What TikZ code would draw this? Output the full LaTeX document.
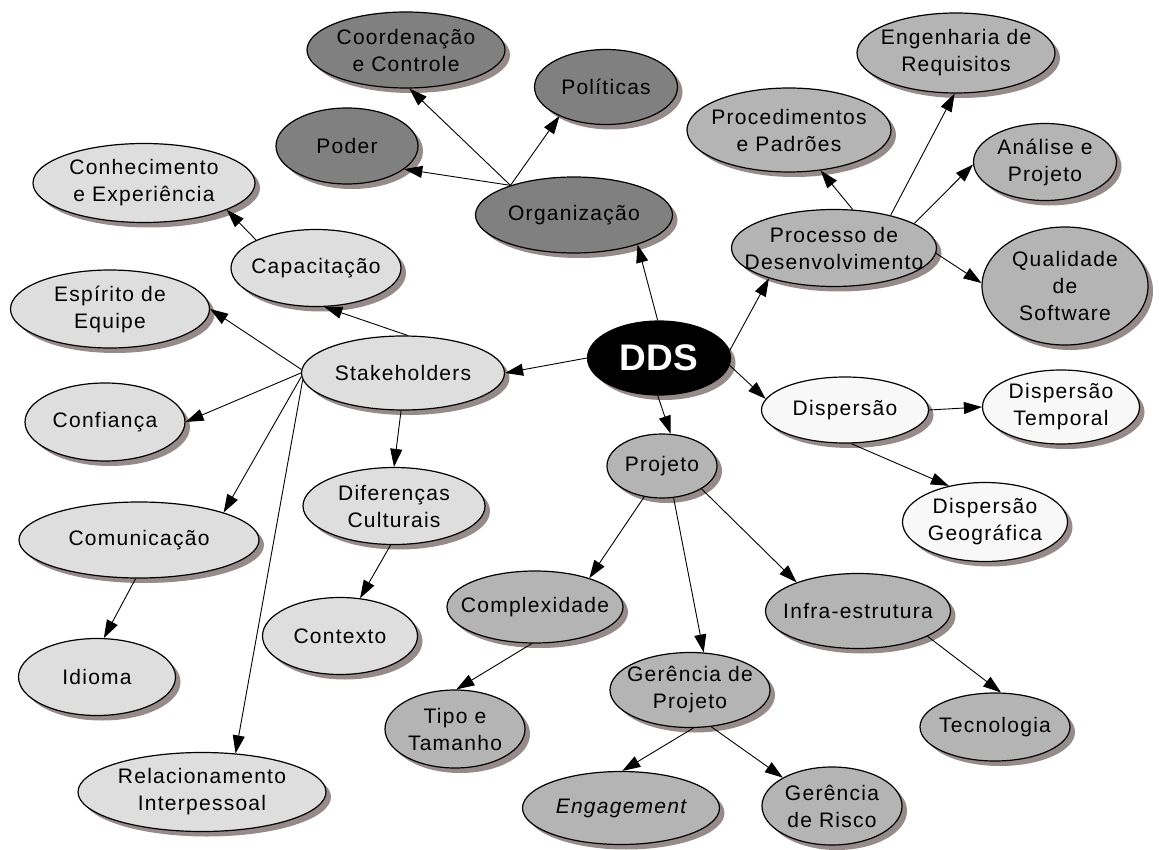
\documentclass[tikz,border=0pt]{standalone}
\usepackage{fontspec}
\setmainfont{Liberation Sans}[LetterSpace=6]
\usepackage{tikz}
\usetikzlibrary{shapes.geometric,arrows.meta,shadows}
\definecolor{orggray}{RGB}{128,128,128}
\definecolor{midgray}{RGB}{180,180,180}
\definecolor{litegray}{RGB}{222,222,222}
\definecolor{dispwhite}{RGB}{248,248,248}
\definecolor{shadowc}{RGB}{150,138,138}
\newcommand{\bubfont}{\fontsize{21}{27}\selectfont}
\tikzset{
  bubble/.style={ellipse, draw, line width=1.2pt, inner sep=0pt,
    drop shadow={shadow xshift=5pt, shadow yshift=-5pt, fill=shadowc, opacity=1}},
  orgbub/.style={bubble, fill=orggray},
  midbub/.style={bubble, fill=midgray},
  litebub/.style={bubble, fill=litegray},
  dispbub/.style={bubble, fill=dispwhite},
  sz/.style 2 args={minimum width=#1pt, minimum height=#2pt},
  every label/.style={font=\bubfont, align=center, inner sep=0pt},
  link/.style={-{Triangle[length=18pt,width=12pt]}, line width=0.9pt},
}

\begin{document}
\begin{tikzpicture}[x=1pt, y=-1pt]
    \fill[white] (0,0) rectangle (1159,850);
    \useasboundingbox (0,0) rectangle (1159,850);

    % centro
    \node[bubble, fill=black, sz={143}{74},
      label={[text=white, font=\fontsize{37}{40}\selectfont\bfseries\addfontfeature{LetterSpace=0}]center:DDS}] (dds) at (659,358) {};

    % organizacao
    \node[orgbub, sz={197}{76}, label={center:Organização}] (org) at (574,215) {};
    \node[orgbub, sz={142}{76}, label={center:Poder}] (poder) at (347,146) {};
    \node[orgbub, sz={198}{76}, label={center:Coordenação\\e Controle}] (coord) at (406,50) {};
    \node[orgbub, sz={143}{75}, label={center:Políticas}] (polit) at (606,87) {};

    % stakeholders
    \node[litebub, sz={203}{74}, label={center:Stakeholders}] (stake) at (403,373) {};
    \node[litebub, sz={170}{77}, label={center:Capacitação}] (capac) at (316,268) {};
    \node[litebub, sz={222}{79}, label={center:Conhecimento\\e Experiência}] (conhec) at (144,183) {};
    \node[litebub, sz={199}{78}, label={center:Espírito de\\Equipe}] (espir) at (110,309) {};
    \node[litebub, sz={160}{78}, label={center:Confiança}] (confi) at (105,422) {};
    \node[litebub, sz={240}{76}, label={center:Comunicação}] (comun) at (139,540) {};
    \node[litebub, sz={157}{77}, label={center:Idioma}] (idiom) at (97,677) {};
    \node[litebub, sz={248}{79}, label={center:Relacionamento\\Interpessoal}] (relac) at (202,792) {};
    \node[litebub, sz={182}{77}, label={center:Diferenças\\Culturais}] (difer) at (394,506) {};
    \node[litebub, sz={155}{77}, label={center:Contexto}] (contx) at (340,636) {};

    % processo
    \node[midbub, sz={205}{77}, label={center:Processo de\\Desenvolvimento}] (proc) at (834,248) {};
    \node[midbub, sz={204}{84}, label={center:Procedimentos\\e Padrões}] (proced) at (789,130) {};
    \node[midbub, sz={198}{80}, label={center:Engenharia de\\Requisitos}] (engen) at (956,53) {};
    \node[midbub, sz={143}{77}, label={center:Análise e\\Projeto}] (analis) at (1045,162) {};
    \node[midbub, sz={166}{118}, label={center:Qualidade\\de\\Software}] (qualid) at (1065,286) {};

    % dispersao
    \node[dispbub, sz={167}{66}, label={center:Dispersão}] (disp) at (845,410) {};
    \node[dispbub, sz={157}{74}, label={center:Dispersão\\Temporal}] (dtemp) at (1061,407) {};
    \node[dispbub, sz={165}{79}, label={center:Dispersão\\Geográfica}] (dgeo) at (985,522) {};

    % projeto
    \node[midbub, sz={110}{64}, label={center:Projeto}] (proj) at (662,466) {};
    \node[midbub, sz={176}{72}, label={center:Complexidade}] (cmplx) at (535,607) {};
    \node[midbub, sz={140}{78}, label={center:Tipo e\\Tamanho}] (tipo) at (455,729) {};
    \node[midbub, sz={160}{75}, label={center:Gerência de\\Projeto}] (gerproj) at (690,690) {};
    \node[midbub, sz={185}{75}, label={center:Infra-estrutura}] (infra) at (858,611) {};
    \node[midbub, sz={150}{68}, label={center:Tecnologia}] (tecno) at (995,727) {};
    \node[midbub, sz={197}{73}, label={[font=\bubfont\itshape]center:Engagement}] (engag) at (621,808) {};
    \node[midbub, sz={140}{78}, label={center:Gerência\\de Risco}] (risco) at (832,806) {};

    % ligacoes
    \draw[link] (dds.92) -- (org.335);
    \draw[link] (dds.west) -- (stake.east);
    \draw[link] (dds.6) -- (proc.205);
    \draw[link] (dds.354) -- (disp.172);
    \draw[link] (dds.268) -- (proj.75);

    \draw[link] (org.155) -- (poder.338);
    \draw[link] (org.155) -- (coord.275);
    \draw[link] (org.155) -- (polit.212);

    \draw[link] (stake.83) -- (capac.282);
    \draw[link] (capac.155) -- (conhec.342);
    \draw[link] (stake.178) -- (espir.east);
    \draw[link] (stake.180) -- (confi.east);
    \draw[link] (stake.182) -- (comun.18);
    \draw[link] (stake.184) -- (relac.49);
    \draw[link] (stake.267) -- (difer.north);
    \draw[link] (difer.265) -- (contx.62);
    \draw[link] (comun.265) -- (idiom.80);

    \draw[link] (proc.64) -- (proced.308);
    \draw[link] (proc.30) -- (engen.268);
    \draw[link] (proc.17) -- (analis.182);
    \draw[link] (proc.357) -- (qualid.178);

    \draw[link] (disp.east) -- (dtemp.west);
    \draw[link] (disp.280) -- (dgeo.135);

    \draw[link] (proj.240) -- (cmplx.28);
    \draw[link] (proj.290) -- (gerproj.70);
    \draw[link] (proj.330) -- (infra.155);
    \draw[link] (cmplx.265) -- (tipo.88);
    \draw[link] (infra.340) -- (tecno.80);
    \draw[link] (gerproj.275) -- (engag.88);
    \draw[link] (gerproj.300) -- (risco.150);
\end{tikzpicture}
\end{document}
